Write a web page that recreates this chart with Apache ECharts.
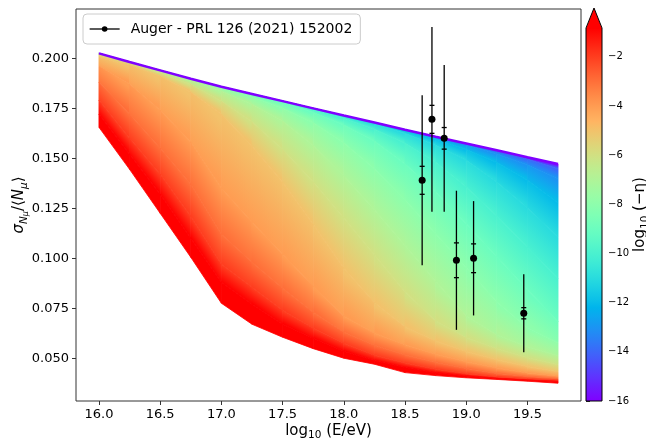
<!DOCTYPE html>
<html>
<head>
<meta charset="utf-8">
<script src="https://cdn.jsdelivr.net/npm/echarts@6/dist/echarts.min.js"></script>
<style>
  html, body { margin: 0; padding: 0; background: #fff; }
  #chart { width: 646px; height: 441px; }
</style>
</head>
<body>
<div id="chart"></div>
<script>
// Energy grid, log10(E/eV)
const energies = [16.0, 16.25, 16.5, 16.75, 17.0, 17.25, 17.5, 17.75, 18.0, 18.25, 18.5, 18.75, 19.0, 19.25, 19.5, 19.75];

// log10(-eta) of each model curve, top (standard) to bottom
const etaLevels = [-16, -14, -13, -12, -11, -10, -9, -8, -7, -6, -5, -4, -3, -2, -0.82, 0];

// sigma_Nmu / <N_mu> for each eta level, one row per level, on the energy grid
const sigmaCurves = [
  [0.2025, 0.1982, 0.1940, 0.1898, 0.1858, 0.1822, 0.1786, 0.1750, 0.1714, 0.1679, 0.1643, 0.1608, 0.1574, 0.1540, 0.1505, 0.1472],
  [0.2025, 0.1982, 0.1940, 0.1898, 0.1858, 0.1822, 0.1786, 0.1750, 0.1714, 0.1679, 0.1643, 0.1608, 0.1574, 0.1538, 0.1495, 0.1446],
  [0.2025, 0.1982, 0.1940, 0.1898, 0.1858, 0.1822, 0.1786, 0.1750, 0.1714, 0.1679, 0.1643, 0.1608, 0.1568, 0.1522, 0.1466, 0.1396],
  [0.2025, 0.1982, 0.1940, 0.1898, 0.1858, 0.1822, 0.1786, 0.1750, 0.1714, 0.1679, 0.1640, 0.1596, 0.1544, 0.1479, 0.1390, 0.1276],
  [0.2025, 0.1982, 0.1940, 0.1898, 0.1858, 0.1822, 0.1786, 0.1750, 0.1714, 0.1672, 0.1624, 0.1565, 0.1490, 0.1382, 0.1251, 0.1105],
  [0.2025, 0.1982, 0.1940, 0.1898, 0.1858, 0.1822, 0.1786, 0.1746, 0.1701, 0.1646, 0.1575, 0.1480, 0.1356, 0.1212, 0.1055, 0.0897],
  [0.2025, 0.1982, 0.1940, 0.1898, 0.1858, 0.1822, 0.1779, 0.1729, 0.1667, 0.1587, 0.1471, 0.1331, 0.1173, 0.1008, 0.0842, 0.0684],
  [0.2025, 0.1982, 0.1940, 0.1898, 0.1855, 0.1807, 0.1751, 0.1678, 0.1578, 0.1446, 0.1291, 0.1123, 0.0952, 0.0783, 0.0653, 0.0578],
  [0.2025, 0.1982, 0.1940, 0.1890, 0.1836, 0.1771, 0.1687, 0.1564, 0.1413, 0.1243, 0.1064, 0.0885, 0.0713, 0.0616, 0.0558, 0.0512],
  [0.2025, 0.1979, 0.1926, 0.1869, 0.1785, 0.1683, 0.1544, 0.1381, 0.1201, 0.1016, 0.0833, 0.0686, 0.0602, 0.0547, 0.0502, 0.0467],
  [0.2005, 0.1965, 0.1910, 0.1830, 0.1720, 0.1560, 0.1380, 0.1170, 0.0950, 0.0777, 0.0656, 0.0586, 0.0534, 0.0492, 0.0459, 0.0432],
  [0.1960, 0.1870, 0.1740, 0.1580, 0.1350, 0.1180, 0.1020, 0.0860, 0.0710, 0.0625, 0.0568, 0.0520, 0.0482, 0.0451, 0.0426, 0.0410],
  [0.1880, 0.1720, 0.1550, 0.1370, 0.1120, 0.0980, 0.0850, 0.0730, 0.0630, 0.0565, 0.0516, 0.0478, 0.0449, 0.0424, 0.0409, 0.0398],
  [0.1790, 0.1600, 0.1420, 0.1210, 0.0970, 0.0855, 0.0740, 0.0650, 0.0575, 0.0515, 0.0476, 0.0445, 0.0422, 0.0406, 0.0397, 0.0390],
  [0.1720, 0.1520, 0.1320, 0.1100, 0.0880, 0.0770, 0.0670, 0.0600, 0.0535, 0.0488, 0.0453, 0.0427, 0.0411, 0.0399, 0.0390, 0.0384],
  [0.1655, 0.1445, 0.1225, 0.1005, 0.0775, 0.0670, 0.0605, 0.0548, 0.0500, 0.0470, 0.0428, 0.0413, 0.0402, 0.0394, 0.0385, 0.0375]
];

// Auger measurement: energy, ratio, statistical and total uncertainty
const augerLabel = 'Auger - PRL 126 (2021) 152002';
const augerEnergy = [18.64, 18.72, 18.82, 18.92, 19.06, 19.47];
const augerRatio  = [0.1390, 0.1695, 0.1600, 0.0990, 0.1000, 0.0725];
const augerStat   = [0.0070, 0.0070, 0.0054, 0.0087, 0.0072, 0.0028];
const augerTotal  = [0.0425, 0.0462, 0.0367, 0.0348, 0.0286, 0.0195];

// Tick positions
const xTickValues = [16.0, 16.5, 17.0, 17.5, 18.0, 18.5, 19.0, 19.5];
const yTickValues = [0.050, 0.075, 0.100, 0.125, 0.150, 0.175, 0.200];
const cbTickValues = [-16, -14, -12, -10, -8, -6, -4, -2];

// Colour scale range
const CB_MIN = -16;
const CB_MAX = -0.824;
const FONT = 'DejaVu Sans';

// 'rainbow' colour map: purple -> blue -> green -> orange -> red
function rainbowRGB(v) {
  let t = (v - CB_MIN) / (CB_MAX - CB_MIN);
  t = Math.max(0, Math.min(1, t));
  const r = Math.min(1, Math.abs(2 * t - 0.5));
  const g = Math.sin(Math.PI * t);
  const b = Math.cos(Math.PI * t / 2);
  return 'rgb(' + Math.round(r * 255) + ',' + Math.round(g * 255) + ',' + Math.round(b * 255) + ')';
}

// One item per (band between neighbouring curves, energy segment)
const bandItems = [];
for (let b = 0; b < sigmaCurves.length - 1; b++) {
  for (let s = 0; s < energies.length - 1; s++) {
    bandItems.push([energies[s], sigmaCurves[b][s], b, s]);
  }
}

function renderBand(params, api) {
  const b = api.value(2), s = api.value(3);
  const top = sigmaCurves[b], bot = sigmaCurves[b + 1];
  const p0 = api.coord([energies[s], top[s]]);
  const p1 = api.coord([energies[s + 1], top[s + 1]]);
  const p2 = api.coord([energies[s + 1], bot[s + 1]]);
  const p3 = api.coord([energies[s], bot[s]]);
  const cTop = rainbowRGB(etaLevels[b]);
  const cBot = rainbowRGB(etaLevels[b + 1]);
  // gradient runs across the band, perpendicular to its mid-line
  const lm = [(p0[0] + p3[0]) / 2, (p0[1] + p3[1]) / 2];
  const rm = [(p1[0] + p2[0]) / 2, (p1[1] + p2[1]) / 2];
  let dx = rm[0] - lm[0], dy = rm[1] - lm[1];
  const len = Math.hypot(dx, dy) || 1;
  dx /= len; dy /= len;
  const nx = -dy, ny = dx;
  const cx = (lm[0] + rm[0]) / 2, cy = (lm[1] + rm[1]) / 2;
  const tm = [(p0[0] + p1[0]) / 2, (p0[1] + p1[1]) / 2];
  const bm = [(p2[0] + p3[0]) / 2, (p2[1] + p3[1]) / 2];
  const t0 = (tm[0] - cx) * nx + (tm[1] - cy) * ny;
  const t1 = (bm[0] - cx) * nx + (bm[1] - cy) * ny;
  let fill;
  if (Math.abs(t1 - t0) < 0.6) {
    fill = cTop;
  } else {
    fill = new echarts.graphic.LinearGradient(
      cx + nx * t0, cy + ny * t0, cx + nx * t1, cy + ny * t1,
      [{ offset: 0, color: cTop }, { offset: 1, color: cBot }], true);
  }
  return {
    type: 'polygon',
    shape: { points: [p0, p1, p2, p3] },
    style: { fill: fill, stroke: fill, lineWidth: 0.8 }
  };
}

const errorItems = augerEnergy.map((e, i) => [e, augerRatio[i], augerStat[i], augerTotal[i]]);

function renderError(params, api) {
  const e = api.value(0), y = api.value(1), st = api.value(2), tot = api.value(3);
  const hi = api.coord([e, y + tot]);
  const lo = api.coord([e, y - tot]);
  const sHi = api.coord([e, y + st]);
  const sLo = api.coord([e, y - st]);
  const ls = { stroke: '#000', lineWidth: 1.3 };
  return {
    type: 'group',
    children: [
      { type: 'line', shape: { x1: hi[0], y1: hi[1], x2: lo[0], y2: lo[1] }, style: ls },
      { type: 'line', shape: { x1: sHi[0] - 2.5, y1: sHi[1], x2: sHi[0] + 2.5, y2: sHi[1] }, style: ls },
      { type: 'line', shape: { x1: sLo[0] - 2.5, y1: sLo[1], x2: sLo[0] + 2.5, y2: sLo[1] }, style: ls }
    ]
  };
}

function renderColorbar(params, api) {
  const bl = api.coord([0, CB_MIN]);
  const tr = api.coord([1, CB_MAX]);
  const x0 = bl[0], x1 = tr[0], yTop = tr[1], yBot = bl[1];
  const apexY = yTop - 20;
  const stops = [];
  const n = 48;
  for (let i = 0; i <= n; i++) {
    stops.push({ offset: i / n, color: rainbowRGB(CB_MAX - (i / n) * (CB_MAX - CB_MIN)) });
  }
  return {
    type: 'group',
    children: [
      { type: 'rect', shape: { x: x0, y: yTop, width: x1 - x0, height: yBot - yTop },
        style: { fill: new echarts.graphic.LinearGradient(0, 0, 0, 1, stops) } },
      { type: 'polygon', shape: { points: [[x0, yTop + 0.5], [x1, yTop + 0.5], [(x0 + x1) / 2, apexY]] },
        style: { fill: rainbowRGB(CB_MAX) } },
      { type: 'polygon', shape: { points: [[x0, yBot], [x1, yBot], [x1, yTop], [(x0 + x1) / 2, apexY], [x0, yTop]] },
        style: { fill: 'none', stroke: '#000', lineWidth: 1 } }
    ]
  };
}

const chart = echarts.init(document.getElementById('chart'), null, { renderer: 'canvas' });

const axisLineStyle = { color: '#333', width: 1 };

chart.setOption({
  animation: false,
  backgroundColor: '#fff',
  textStyle: { fontFamily: FONT },
  grid: [
    { left: 76, top: 9, width: 505, height: 392, show: true, borderColor: '#333', borderWidth: 1,
      backgroundColor: 'transparent', containLabel: false, outerBoundsMode: 'none' },
    { left: 586, top: 28, width: 16, height: 373, show: false, containLabel: false, outerBoundsMode: 'none' }
  ],
  legend: {
    data: [augerLabel],
    left: 83, top: 14,
    orient: 'vertical',
    padding: [8, 8, 8, 6],
    itemWidth: 30, itemHeight: 7,
    backgroundColor: 'rgba(255,255,255,0.85)',
    borderColor: '#cccccc', borderWidth: 1, borderRadius: 4,
    textStyle: { fontFamily: FONT, fontSize: 14, color: '#000', padding: [0, 0, 0, 6] },
    itemStyle: { color: '#000', opacity: 1, borderWidth: 0 },
    lineStyle: { color: '#000', width: 1.3, opacity: 1, type: 'solid' }
  },
  xAxis: [
    {
      type: 'value', gridIndex: 0, min: 15.8125, max: 19.9375,
      splitLine: { show: false },
      axisLine: { show: false },
      axisTick: { show: true, length: 4, customValues: xTickValues, lineStyle: axisLineStyle },
      axisLabel: { customValues: xTickValues, formatter: v => v.toFixed(1), fontSize: 13, color: '#000',
                   margin: 7, fontFamily: FONT },
      name: '{t|log}{s|10}{t| (E/eV)}',
      nameLocation: 'middle', nameGap: 20, nameMoveOverlap: false,
      nameTextStyle: {
        rich: {
          t: { fontFamily: FONT, fontSize: 15, color: '#000', lineHeight: 20 },
          s: { fontFamily: FONT, fontSize: 10.5, color: '#000', lineHeight: 10, verticalAlign: 'bottom' }
        }
      }
    },
    { type: 'value', gridIndex: 1, min: 0, max: 1, show: false }
  ],
  yAxis: [
    {
      type: 'value', gridIndex: 0, min: 0.0286, max: 0.2247,
      splitLine: { show: false },
      axisLine: { show: false },
      axisTick: { show: true, length: 4, customValues: yTickValues, lineStyle: axisLineStyle },
      axisLabel: { customValues: yTickValues, formatter: v => v.toFixed(3), fontSize: 13, color: '#000',
                   margin: 7, fontFamily: FONT },
      name: '{i|σ}{s|N}{ss|μ}{n|/⟨}{i|N}{s|μ}{n|⟩}',
      nameLocation: 'middle', nameRotate: 90, nameGap: 46, nameMoveOverlap: false,
      nameTextStyle: {
        rich: {
          i: { fontFamily: FONT, fontSize: 15, fontStyle: 'italic', color: '#000', lineHeight: 22 },
          n: { fontFamily: FONT, fontSize: 15, color: '#000', lineHeight: 22 },
          s: { fontFamily: FONT, fontSize: 10.5, fontStyle: 'italic', color: '#000', lineHeight: 11, verticalAlign: 'bottom' },
          ss: { fontFamily: FONT, fontSize: 8, fontStyle: 'italic', color: '#000', lineHeight: 6, verticalAlign: 'bottom' }
        }
      }
    },
    {
      type: 'value', gridIndex: 1, min: CB_MIN, max: CB_MAX, position: 'right',
      splitLine: { show: false },
      axisLine: { show: false },
      axisTick: { show: true, length: 4, customValues: cbTickValues, lineStyle: axisLineStyle },
      axisLabel: { customValues: cbTickValues, formatter: v => (v < 0 ? '\u2212' : '') + Math.abs(v),
                   fontSize: 10, color: '#000', margin: 6, fontFamily: FONT },
      name: '{t|log}{s|10}{t| (\u2212η)}',
      nameLocation: 'middle', nameRotate: 90, nameGap: 26,
      nameTextStyle: {
        rich: {
          t: { fontFamily: FONT, fontSize: 15, color: '#000', lineHeight: 20 },
          s: { fontFamily: FONT, fontSize: 10.5, color: '#000', lineHeight: 10, verticalAlign: 'bottom' }
        }
      }
    }
  ],
  series: [
    {
      type: 'custom', name: 'model band', xAxisIndex: 0, yAxisIndex: 0,
      silent: true, z: 1,
      data: bandItems, encode: { x: 0, y: 1 },
      renderItem: renderBand
    },
    {
      type: 'line', name: 'standard', xAxisIndex: 0, yAxisIndex: 0,
      data: energies.map((e, i) => [e, sigmaCurves[0][i]]),
      symbol: 'none', silent: true, z: 3,
      lineStyle: { color: rainbowRGB(etaLevels[0]), width: 2.5 }
    },
    {
      type: 'custom', name: 'auger errors', xAxisIndex: 0, yAxisIndex: 0,
      silent: true, z: 5,
      data: errorItems, encode: { x: 0, y: 1 },
      renderItem: renderError
    },
    {
      type: 'line', name: augerLabel, xAxisIndex: 0, yAxisIndex: 0,
      data: augerEnergy.map((e, i) => [e, augerRatio[i]]),
      symbol: 'circle', symbolSize: 7, z: 6,
      itemStyle: { color: '#000' },
      lineStyle: { width: 0, opacity: 0 }
    },
    {
      type: 'custom', name: 'colorbar', xAxisIndex: 1, yAxisIndex: 1,
      silent: true, z: 2, clip: false,
      data: [[0, CB_MIN]], encode: { x: 0, y: 1 },
      renderItem: renderColorbar
    }
  ]
});
</script>
</body>
</html>
